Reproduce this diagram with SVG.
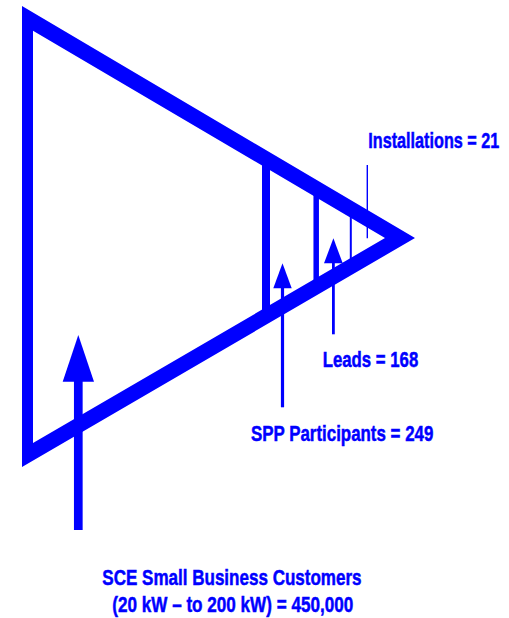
<svg xmlns="http://www.w3.org/2000/svg" width="509" height="618" viewBox="0 0 509 618">
<style>
.lbl{font-family:"Liberation Sans",Arial,sans-serif;font-weight:bold;font-size:22px;fill:#0000ff;stroke:#0000ff;stroke-width:0.5}
.ln{stroke:#0000ff;fill:none}
.ah{fill:#0000ff}
</style>
<rect width="509" height="618" fill="#ffffff"/>
<g id="funnel">
<path d="M22,6 L415,238 L22,467 Z M33,30.7 L33,443 L385,238 Z" fill="#0000ff" fill-rule="evenodd"/>
</g>
<g id="stages">
<line class="ln" x1="266" y1="160" x2="266" y2="315" stroke-width="8"/>
<line class="ln" x1="316.2" y1="190" x2="316.2" y2="285" stroke-width="5.5"/>
<line class="ln" x1="350.8" y1="210" x2="350.8" y2="265" stroke-width="2"/>
</g>
<g id="connectors">
<line class="ln" x1="367.3" y1="165" x2="367.3" y2="238.3" stroke-width="1.4"/>
<line class="ln" x1="78.3" y1="375" x2="78.3" y2="530" stroke-width="8.7"/>
<polygon class="ah" points="78.3,335 62.7,381.7 94,381.7"/>
<line class="ln" x1="282.5" y1="285" x2="282.5" y2="407.3" stroke-width="3.2"/>
<polygon class="ah" points="282.5,263.3 273.3,288.3 291.7,288.3"/>
<line class="ln" x1="333.4" y1="260" x2="333.4" y2="334.3" stroke-width="2.8"/>
<polygon class="ah" points="333.4,238.3 324,263.3 342.7,263.3"/>
</g>
<g id="label-installations"><text class="lbl" transform="translate(368.3,147.7) scale(0.736,1)" textLength="178" lengthAdjust="spacingAndGlyphs">Installations = 21</text></g>
<g id="label-leads"><text class="lbl" transform="translate(322.7,366.7) scale(0.762,1)" textLength="125.4" lengthAdjust="spacingAndGlyphs">Leads = 168</text></g>
<g id="label-spp"><text class="lbl" transform="translate(251,440.7) scale(0.767,1)" textLength="237.7" lengthAdjust="spacingAndGlyphs">SPP Participants = 249</text></g>
<g id="label-sce">
<text class="lbl" transform="translate(102.3,584.7) scale(0.774,1)" textLength="335" lengthAdjust="spacingAndGlyphs">SCE Small Business Customers</text>
<text class="lbl" transform="translate(112.3,612) scale(0.777,1)" textLength="310" lengthAdjust="spacingAndGlyphs">(20 kW – to 200 kW) = 450,000</text>
</g>
</svg>
